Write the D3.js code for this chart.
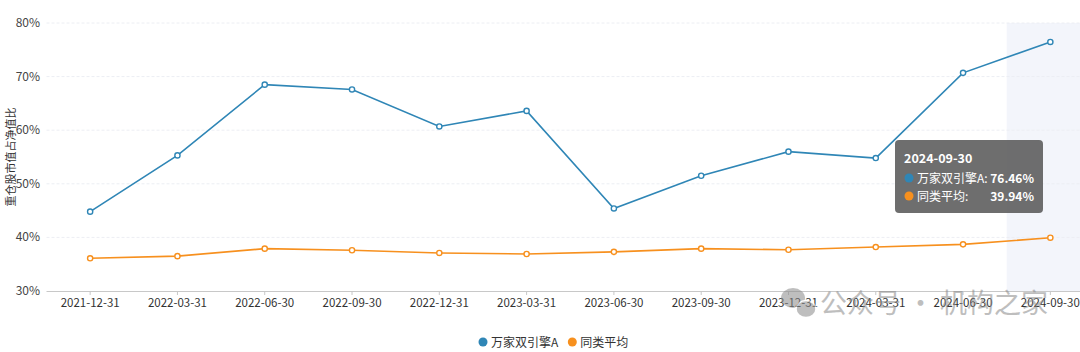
<!DOCTYPE html>
<html>
<head>
<meta charset="utf-8">
<script src="https://cdn.jsdelivr.net/npm/d3@7"></script>
<style>
  body { margin: 0; background: #fff; }
  svg { display: block; font-family: "Noto Sans CJK SC", "Noto Sans", sans-serif; }
</style>
</head>
<body>
<svg id="chart" width="1080" height="352"></svg>
<script>
//////////////////// DATA ////////////////////
const dates = ["2021-12-31", "2022-03-31", "2022-06-30", "2022-09-30", "2022-12-31", "2023-03-31",
               "2023-06-30", "2023-09-30", "2023-12-31", "2024-03-31", "2024-06-30", "2024-09-30"];
const fundValues = [44.8, 55.3, 68.5, 67.6, 60.7, 63.6, 45.4, 51.5, 56.0, 54.8, 70.7, 76.46];
const peerValues = [36.1, 36.5, 37.9, 37.6, 37.1, 36.9, 37.3, 37.9, 37.7, 38.2, 38.7, 39.94];
const yTicks = [30, 40, 50, 60, 70, 80];
const seriesNames = ["万家双引擎A", "同类平均"];
const seriesColors = ["#2f86b6", "#f7901e"];
const yTitle = "重仓股市值占净值比";
const watermark = "公众号 · 机构之家";
const hoverIndex = 11;

//////////////////// SIZES ////////////////////
const svg = d3.select("#chart");
const plot = { left: 46.5, right: 1094, top: 23, bottom: 291 };

//////////////////// SCALES ////////////////////
const scaleX = d3.scaleBand().domain(dates).range([plot.left, plot.right]);
const scaleY = d3.scaleLinear().domain([30, 80]).range([plot.bottom, plot.top]);
const cx = d => scaleX(d) + scaleX.bandwidth() / 2;

// hover band
svg.append("rect")
    .attr("x", scaleX(dates[hoverIndex]))
    .attr("y", plot.top)
    .attr("width", scaleX.bandwidth())
    .attr("height", plot.bottom - plot.top)
    .attr("fill", "#f3f5fb");

// grid lines
svg.append("g").selectAll("line")
    .data(yTicks.slice(1))
    .join("line")
    .attr("x1", plot.left).attr("x2", 1080)
    .attr("y1", d => scaleY(d)).attr("y2", d => scaleY(d))
    .attr("stroke", "#eceef3")
    .attr("stroke-dasharray", "3,2");

// y labels
svg.append("g").selectAll("text")
    .data(yTicks)
    .join("text")
    .attr("x", 40)
    .attr("y", d => scaleY(d) + 4)
    .attr("text-anchor", "end")
    .attr("font-size", 12)
    .attr("fill", "#444")
    .text(d => d + "%");

// y title
svg.append("text")
    .attr("transform", `translate(15, 157) rotate(-90)`)
    .attr("text-anchor", "middle")
    .attr("font-size", 11)
    .attr("fill", "#333")
    .text(yTitle);

// x axis
const xAxisGroup = svg.append("g")
    .attr("transform", `translate(0, ${plot.bottom})`)
    .call(d3.axisBottom(scaleX).tickSize(4).tickPadding(4));
xAxisGroup.select(".domain").attr("stroke", "#c8c8c8").attr("d", `M${plot.left},0.5H1080`);
xAxisGroup.selectAll(".tick line").attr("stroke", "#c8c8c8");
xAxisGroup.selectAll(".tick text")
    .attr("font-size", 11.5)
    .attr("fill", "#333")
    .attr("font-family", "\"Noto Sans CJK SC\", sans-serif");

// lines
const lineGen = d3.line().x((d, i) => cx(dates[i])).y(d => scaleY(d));
[fundValues, peerValues].forEach((vals, s) => {
    svg.append("path")
        .datum(vals)
        .attr("d", lineGen)
        .attr("fill", "none")
        .attr("stroke", seriesColors[s])
        .attr("stroke-width", 1.6);
    svg.append("g").selectAll("circle")
        .data(vals)
        .join("circle")
        .attr("cx", (d, i) => cx(dates[i]))
        .attr("cy", d => scaleY(d))
        .attr("r", 2.6)
        .attr("fill", "#fff")
        .attr("stroke", seriesColors[s])
        .attr("stroke-width", 1.4);
});

// watermark
const wm = svg.append("g").attr("opacity", 0.55);
wm.append("ellipse").attr("cx", 793).attr("cy", 298).attr("rx", 12).attr("ry", 10).attr("fill", "#8a8a8a");
wm.append("ellipse").attr("cx", 806).attr("cy", 309).attr("rx", 10).attr("ry", 8.5).attr("fill", "#8a8a8a").attr("stroke", "#fff").attr("stroke-width", 1.5);
wm.append("text")
    .attr("x", 820).attr("y", 313)
    .attr("font-size", 27)
    .attr("fill", "#8a8a8a")
    .text(watermark);

// tooltip
const tip = svg.append("g").attr("transform", "translate(895, 140)");
tip.append("rect")
    .attr("width", 148).attr("height", 73)
    .attr("rx", 4)
    .attr("fill", "rgba(90,90,90,0.88)");
tip.append("text")
    .attr("x", 9).attr("y", 23)
    .attr("font-size", 12.5).attr("font-weight", "bold")
    .attr("fill", "#fff")
    .text(dates[hoverIndex]);
const tipVals = [fundValues[hoverIndex], peerValues[hoverIndex]];
const tipLabels = [seriesNames[0] + ":", seriesNames[1] + ":"];
tipVals.forEach((v, i) => {
    const y = 38 + i * 18;
    tip.append("circle").attr("cx", 14).attr("cy", y).attr("r", 4.5).attr("fill", seriesColors[i]);
    tip.append("text")
        .attr("x", 22).attr("y", y + 4.5)
        .attr("font-size", 12).attr("fill", "#fff")
        .text(tipLabels[i]);
    tip.append("text")
        .attr("x", 139).attr("y", y + 4.5)
        .attr("text-anchor", "end")
        .attr("font-size", 12).attr("font-weight", "bold").attr("fill", "#fff")
        .text(v.toFixed(2) + "%");
});

// legend
const legend = svg.append("g").attr("transform", "translate(483, 342)");
let offset = 0;
seriesNames.forEach((name, i) => {
    const item = legend.append("g").attr("transform", `translate(${offset}, 0)`);
    item.append("circle").attr("cx", 0).attr("cy", 0).attr("r", 4.5).attr("fill", seriesColors[i]);
    const t = item.append("text")
        .attr("x", 8).attr("y", 4.5)
        .attr("font-size", 12).attr("fill", "#333")
        .text(name);
    offset += 8 + t.node().getComputedTextLength() + 14;
});
</script>
</body>
</html>
